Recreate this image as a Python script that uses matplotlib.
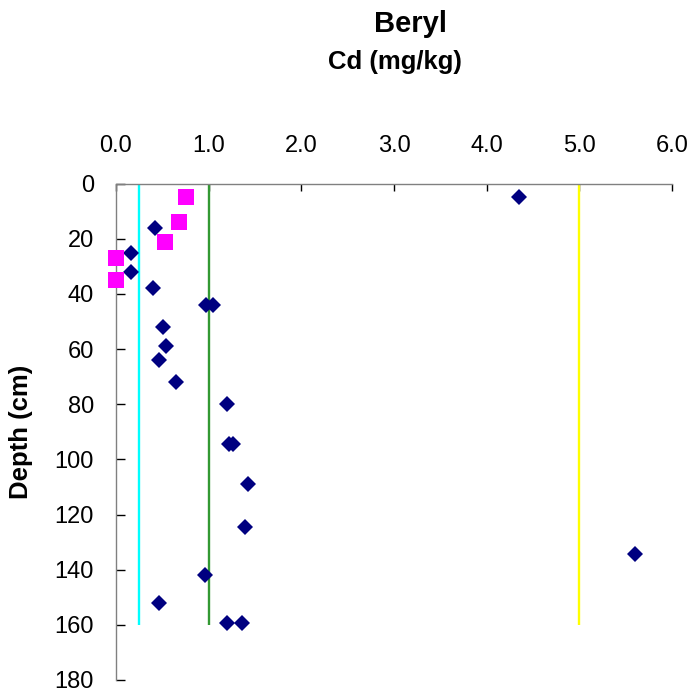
import numpy as np
import matplotlib.pyplot as plt

plt.rcParams['font.family'] = ['Liberation Sans', 'DejaVu Sans']

# Cd (mg/kg) vs depth (cm)
cd_navy = [4.35, 0.42, 0.16, 0.16, 0.40, 0.97, 1.05, 0.51, 0.54, 0.46, 0.65,
           1.20, 1.22, 1.26, 1.42, 1.39, 5.60, 0.96, 0.46, 1.20, 1.36]
depth_navy = [5, 16, 25, 32, 38, 44, 44, 52, 59, 64, 72,
              80, 94.5, 94.5, 109, 124.5, 134.4, 142, 152, 159.5, 159.5]

cd_pink = [0.75, 0.68, 0.53, 0.0, 0.0]
depth_pink = [5, 14, 21, 27, 35]

# guideline values
guide_x = [0.25, 1.0, 5.0]
guide_colors = ['#00FFFF', '#339933', '#FFFF00']
guide_top, guide_bottom = 0, 160

fig = plt.figure(figsize=(6.93, 6.93), dpi=100)
ax = fig.add_axes([116/693, 0.01876, 556/693, 0.7349 - 0.01876])

ax.vlines(guide_x, guide_top, guide_bottom, colors=guide_colors, linewidth=1.7, zorder=2)
ax.plot(cd_navy, depth_navy, 'D', color='#000080', markersize=8.5, markeredgewidth=0,
        clip_on=False, zorder=3)
ax.plot(cd_pink, depth_pink, 's', color='#FF00FF', markersize=11, markeredgewidth=0,
        clip_on=False, zorder=3)

ax.set_xlim(0, 6)
ax.set_ylim(180, 0)
ax.set_xticks(np.arange(0, 6.1, 1.0))
ax.set_xticklabels([f'{v:.1f}' for v in np.arange(0, 6.1, 1.0)])
ax.set_yticks(np.arange(0, 181, 20))

ax.xaxis.tick_top()
ax.tick_params(axis='x', direction='in', length=5, width=1, pad=19, labelsize=17)
ax.tick_params(axis='y', direction='in', length=6.5, width=1, pad=16, labelsize=17)

for side in ['right', 'bottom']:
    ax.spines[side].set_visible(False)
for side in ['left', 'top']:
    ax.spines[side].set_color('#808080')
    ax.spines[side].set_linewidth(1)

ax.set_ylabel('Depth (cm)', fontsize=18.5, fontweight='bold')
ax.yaxis.set_label_coords(-0.149, 0.5)

fig.text(411/693, 1 - 24/693, 'Beryl', ha='center', va='center', fontsize=21, fontweight='bold')
fig.text(395/693, 1 - 62/693, 'Cd (mg/kg)', ha='center', va='center', fontsize=18.5, fontweight='bold')

fig.savefig('out.png', dpi=100)
